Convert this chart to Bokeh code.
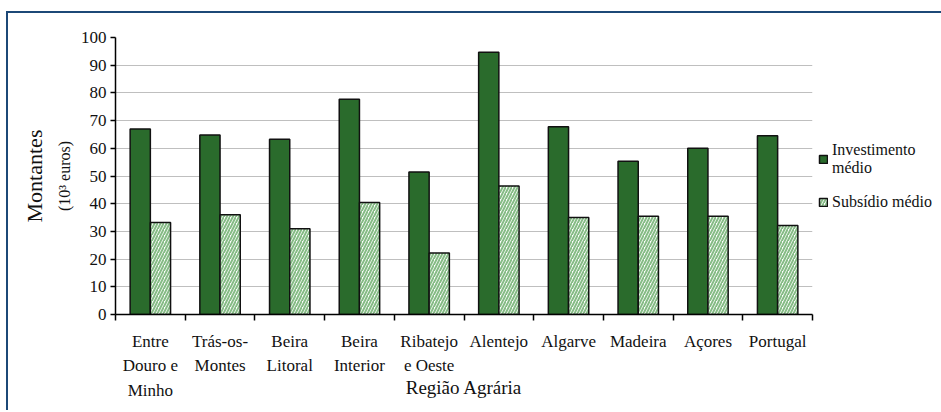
from bokeh.plotting import figure
from bokeh.models import (Range1d, LinearAxis, FixedTicker, Title, Legend, LegendItem,
                          ColumnDataSource)
from bokeh.transform import dodge
from bokeh.embed import file_html
from bokeh.resources import INLINE

categories = ["Entre Douro e Minho", "Trás-os-Montes", "Beira Litoral", "Beira Interior",
              "Ribatejo e Oeste", "Alentejo", "Algarve", "Madeira", "Açores", "Portugal"]
tick_labels = ["Entre\nDouro e\nMinho", "Trás-os-\nMontes", "Beira\nLitoral", "Beira\nInterior",
               "Ribatejo\ne Oeste", "Alentejo", "Algarve", "Madeira", "Açores", "Portugal"]
investimento = [67.0, 64.8, 63.3, 77.7, 51.4, 94.7, 67.8, 55.3, 60.0, 64.5]
subsidio = [33.2, 36.0, 31.0, 40.4, 22.2, 46.4, 35.0, 35.5, 35.5, 32.1]
y_ticks = [0, 10, 20, 30, 40, 50, 60, 70, 80, 90, 100]

FONT = "Liberation Serif"
GREEN = "#2A6B2C"
HATCH = "#86BC86"
INK = "#111111"

pos = [i + 0.5 for i in range(len(categories))]
src = ColumnDataSource(dict(x=pos, cat=categories, inv=investimento, sub=subsidio))

p = figure(frame_width=697, frame_height=277, output_backend="svg", toolbar_location=None,
           x_range=Range1d(0, len(categories)), y_range=Range1d(0, 100),
           x_axis_location=None, y_axis_location=None,
           min_border_left=107, min_border_right=126, min_border_top=24, min_border_bottom=96)
p.styles = {"border-top": "2px solid #1C4877", "border-left": "2px solid #1C4877",
            "margin-left": "6px", "margin-top": "11px",
            "font-family": "'Liberation Serif', serif", "font-size": "17px"}
p.outline_line_color = None
p.xgrid.visible = False
p.ygrid.grid_line_color = "#BFBFBF"
p.ygrid.grid_line_width = 1
p.ygrid.ticker = FixedTicker(ticks=y_ticks)

r1 = p.vbar(x=dodge("x", -0.145, range=p.x_range), top="inv", width=0.29, source=src,
            fill_color=GREEN, line_color=INK, line_width=1.5)
r2 = p.vbar(x=dodge("x", 0.145, range=p.x_range), top="sub", width=0.29, source=src,
            fill_color="white", line_color=INK, line_width=1.5,
            hatch_pattern="/", hatch_color=HATCH, hatch_weight=2, hatch_scale=6)

yax = LinearAxis(ticker=FixedTicker(ticks=y_ticks))
yax.major_label_text_font = FONT
yax.major_label_text_font_size = "17px"
yax.major_label_text_color = INK
yax.major_tick_out = 5
yax.major_tick_in = 0
yax.minor_tick_line_color = None
yax.axis_line_width = 1.5
yax.major_tick_line_width = 1.5
yax.major_label_standoff = 4
p.add_layout(yax, "left")

bax = LinearAxis(ticker=FixedTicker(ticks=list(range(len(categories) + 1))))
bax.major_label_overrides = {i: "" for i in range(len(categories) + 1)}
bax.major_tick_out = 6
bax.major_tick_in = 0
bax.minor_tick_line_color = None
bax.axis_line_width = 1.5
bax.major_tick_line_width = 1.5
bax.major_label_standoff = 0
p.add_layout(bax, "below")

lax = LinearAxis(ticker=FixedTicker(ticks=pos))
lax.major_label_overrides = {pv: t for pv, t in zip(pos, tick_labels)}
lax.axis_line_color = None
lax.major_tick_line_color = None
lax.minor_tick_line_color = None
lax.major_label_text_font = FONT
lax.major_label_text_font_size = "17px"
lax.major_label_text_color = INK
lax.major_label_text_line_height = 1.3
lax.major_label_standoff = 5
lax.axis_label = "Região Agrária"
lax.axis_label_text_font = FONT
lax.axis_label_text_font_size = "19px"
lax.axis_label_text_font_style = "normal"
lax.axis_label_text_color = INK
lax.axis_label_standoff = -26
p.add_layout(lax, "below")

t_units = Title(text="(10³ euros)", align="center", standoff=9,
                text_font=FONT, text_font_size="16px", text_font_style="normal",
                text_color=INK)
p.add_layout(t_units, "left")
t_main = Title(text="Montantes", align="center", standoff=5,
               text_font=FONT, text_font_size="22px", text_font_style="normal",
               text_color=INK)
p.add_layout(t_main, "left")

legend = Legend(items=[LegendItem(label="Investimento\nmédio", renderers=[r1]),
                       LegendItem(label="Subsídio médio", renderers=[r2])],
                location="center_left", orientation="vertical")
legend.border_line_color = None
legend.background_fill_alpha = 0
legend.margin = 6
legend.padding = 3
legend.spacing = 16
legend.glyph_width = 10
legend.glyph_height = 10
legend.label_standoff = 4
legend.label_text_font = FONT
legend.label_text_font_size = "16px"
legend.label_text_color = INK
legend.label_text_line_height = 1.35
p.add_layout(legend, "right")

open("out.html", "w").write(file_html(p, INLINE))
